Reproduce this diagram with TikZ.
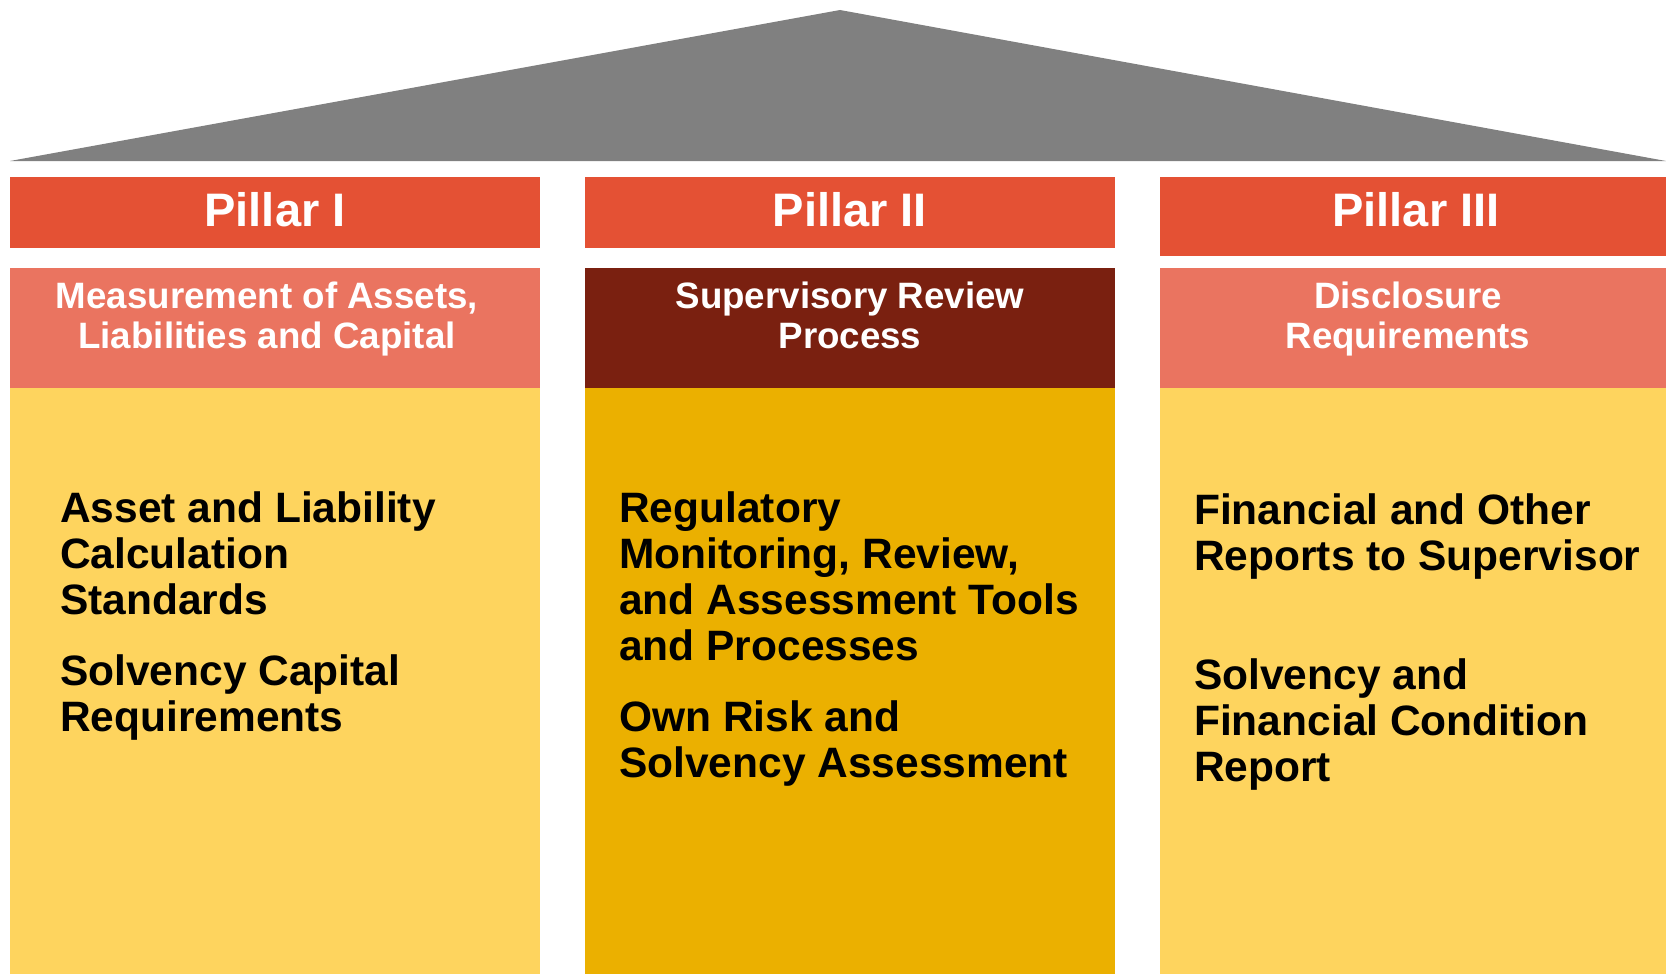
\documentclass[tikz,border=0pt]{standalone}
\usepackage{fontspec}
\setmainfont{Liberation Sans}
\usepackage{tikz}

\definecolor{roofgray}{RGB}{128,128,128}
\definecolor{pillarred}{RGB}{228,81,52}
\definecolor{subsalmon}{RGB}{234,116,96}
\definecolor{submaroon}{RGB}{122,32,16}
\definecolor{bodylight}{RGB}{254,212,94}
\definecolor{bodygold}{RGB}{235,176,0}

\begin{document}
\begin{tikzpicture}[x=1pt,y=1pt,yscale=-1,xscale=1,
  hdr/.style={anchor=base, inner sep=0pt, text=white, font=\fontsize{47}{50}\selectfont\bfseries},
  subhdr/.style={anchor=north, align=center, inner sep=0pt, text=white, font=\fontsize{36.7}{40}\selectfont\bfseries},
  itemtxt/.style={anchor=north west, align=left, inner sep=0pt, text=black, font=\fontsize{42.5}{46}\selectfont\bfseries}]
\useasboundingbox (0,0) rectangle (1666,974);

%Shape: Triangle (roof)
\fill [roofgray] (10,161) -- (840,10) -- (1666,161) -- cycle ;

%Shape: Rectangle (pillar headers)
\fill [pillarred] (10,177) rectangle (540,248) ;
\fill [pillarred] (585,177) rectangle (1115,248) ;
\fill [pillarred] (1160,177) rectangle (1666,256) ;
%Shape: Rectangle (sub headers)
\fill [subsalmon] (10,268) rectangle (540,388) ;
\fill [submaroon] (585,268) rectangle (1115,388) ;
\fill [subsalmon] (1160,268) rectangle (1666,388) ;
%Shape: Rectangle (pillar bodies)
\fill [bodylight] (10,388) rectangle (540,974) ;
\fill [bodygold] (585,388) rectangle (1115,974) ;
\fill [bodylight] (1160,388) rectangle (1666,974) ;

% Text Node
\draw (275,226) node [hdr] (pillarI) {Pillar I};
% Text Node
\draw (850,226) node [hdr] (pillarII) {Pillar II};
% Text Node
\draw (1416,226) node [hdr] (pillarIII) {Pillar III};

% Text Node
\draw (267,281.5) node [subhdr] (measure) {Measurement of Assets,\\Liabilities and Capital};
% Text Node
\draw (850,281.5) node [subhdr] (review) {Supervisory Review\\Process};
% Text Node
\draw (1408,281.5) node [subhdr] (disclose) {Disclosure\\Requirements};

% Text Node
\draw (60,491) node [itemtxt] (calcstd) {Asset and Liability\\Calculation\\Standards};
% Text Node
\draw (60,654) node [itemtxt] (scr) {Solvency Capital\\Requirements};
% Text Node
\draw (619,491) node [itemtxt] (tools) {Regulatory\\Monitoring, Review,\\and Assessment Tools\\and Processes};
% Text Node
\draw (619,700) node [itemtxt] (orsa) {Own Risk and\\Solvency Assessment};
% Text Node
\draw (1194,493) node [itemtxt] (reports) {Financial and Other\\Reports to Supervisor};
% Text Node
\draw (1194,658) node [itemtxt] (sfcr) {Solvency and\\Financial Condition\\Report};

\end{tikzpicture}
\end{document}
